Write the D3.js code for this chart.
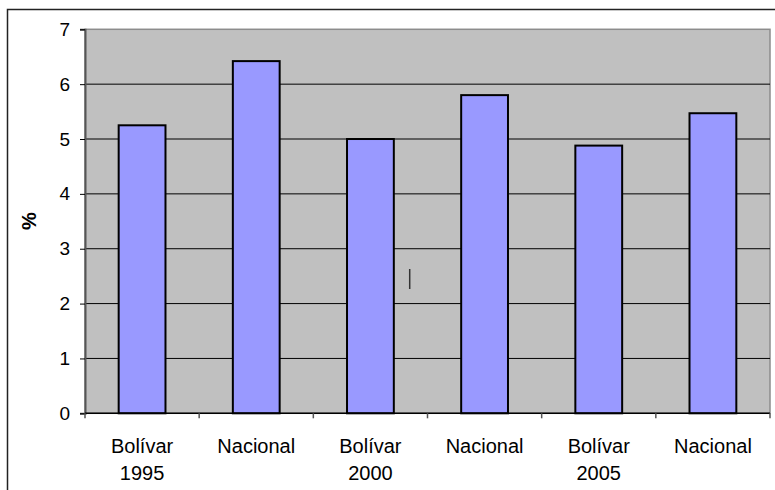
<!DOCTYPE html>
<html><head><meta charset="utf-8">
<script src="https://cdn.jsdelivr.net/npm/d3@7"></script>
<style>html,body{margin:0;padding:0;background:#fff;}svg{display:block;}</style>
</head><body>
<svg id="c" width="775" height="490"></svg>
<script>
const categories = ["Bolívar\n1995","Nacional","Bolívar\n2000","Nacional","Bolívar\n2005","Nacional"];
const values = [5.25, 6.42, 5.0, 5.8, 4.88, 5.47];
const yTicks = [0,1,2,3,4,5,6,7];
const yLabel = "%";

const svg = d3.select("#c");
const L = 85, R = 770, T = 29.3, B = 413.3;
const x = d3.scaleBand().domain(d3.range(categories.length)).range([L, R]).padding(0);
const y = d3.scaleLinear().domain([0, 7]).range([B, T]);

// outer chart border
svg.append("rect").attr("x",7.5).attr("y",9.5).attr("width",800).attr("height",500)
  .attr("fill","#fff").attr("stroke","#222").attr("stroke-width",1.5);

// plot area
svg.append("rect").attr("x",L).attr("y",T).attr("width",R-L).attr("height",B-T)
  .attr("fill","#C0C0C0").attr("stroke","#8c8c8c").attr("stroke-width",1.5);

// gridlines
svg.append("g").selectAll("line").data(yTicks.filter(d=>d>0&&d<7)).join("line")
  .attr("x1",L).attr("x2",R).attr("y1",d=>y(d)).attr("y2",d=>y(d))
  .attr("stroke","#000").attr("stroke-width",1);

// bars
const bw = x.bandwidth()*0.41;
svg.append("g").selectAll("rect").data(values).join("rect")
  .attr("x",(d,i)=>x(i)+x.bandwidth()/2-bw/2)
  .attr("y",d=>y(d))
  .attr("width",bw)
  .attr("height",d=>y(0)-y(d))
  .attr("fill","#9999FF").attr("stroke","#000").attr("stroke-width",2);

// y axis
const yAxis = d3.axisLeft(y).tickValues(yTicks).tickSize(5).tickPadding(10).tickFormat(d3.format("d"));
const gy = svg.append("g").attr("transform",`translate(${L},0)`).call(yAxis);
gy.select(".domain").attr("stroke","#555").attr("stroke-width",2);
gy.selectAll(".tick line").attr("stroke","#000");
gy.selectAll(".tick text").attr("font-family","'Liberation Sans', Arial, sans-serif")
  .attr("font-size",19).attr("fill","#000");

// x axis baseline + ticks at boundaries
svg.append("line").attr("x1",L).attr("x2",R).attr("y1",B).attr("y2",B).attr("stroke","#000").attr("stroke-width",1.5);
const bounds = d3.range(categories.length+1).map(i=> i<categories.length ? x(i) : R);
svg.append("g").selectAll("line").data(bounds).join("line")
  .attr("x1",d=>d).attr("x2",d=>d).attr("y1",B).attr("y2",B+5)
  .attr("stroke","#555").attr("stroke-width",1.5);

// x labels
const xl = svg.append("g").attr("font-family","'Liberation Sans', Arial, sans-serif")
  .attr("font-size",20).attr("fill","#000").attr("text-anchor","middle");
categories.forEach((c,i)=>{
  const t = xl.append("text").attr("x",x(i)+x.bandwidth()/2).attr("y",452.5);
  c.split("\n").forEach((line,j)=>{
    t.append("tspan").attr("x",x(i)+x.bandwidth()/2).attr("dy", j===0?0:27.5).text(line);
  });
});

// y label
svg.append("text").attr("transform","translate(36,221) rotate(-90)")
  .attr("text-anchor","middle").attr("font-family","'Liberation Sans', Arial, sans-serif")
  .attr("font-size",20).attr("font-weight","bold").text(yLabel);

// stray cursor mark
svg.append("line").attr("x1",409.7).attr("x2",409.7).attr("y1",269).attr("y2",289)
  .attr("stroke","#333").attr("stroke-width",1.5);
</script>
</body></html>
